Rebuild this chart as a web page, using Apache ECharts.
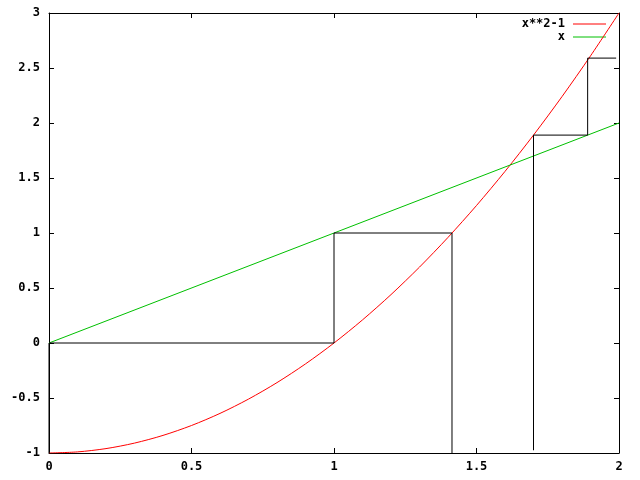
<!DOCTYPE html>
<html><head><meta charset="utf-8">
<script src="https://cdn.jsdelivr.net/npm/echarts@6/dist/echarts.min.js"></script>
<style>html,body{margin:0;padding:0;background:#fff}#c{width:640px;height:480px}</style>
</head><body><div id="c"></div>
<script>
// x**2-1 curve
const curveX = [0,0.1,0.2,0.3,0.4,0.5,0.6,0.7,0.8,0.9,1.0,1.1,1.2,1.3,1.4,1.5,1.6,1.7,1.8,1.9,2.0];
const curveY = [-1,-0.99,-0.96,-0.91,-0.84,-0.75,-0.64,-0.51,-0.36,-0.19,0,0.21,0.44,0.69,0.96,1.25,1.56,1.89,2.24,2.61,3.0];
// x line
const lineX = [0, 2];
const lineY = [0, 2];
// black cobweb path
const webX = [0, 0, 1, 1, 1.414, 1.414];
const webY = [-1, 0, 0, 1, 1, -1];
const web2X = [1.7, 1.7, 1.89, 1.89, 1.99];
const web2Y = [-0.975, 1.89, 1.89, 2.59, 2.59];
const xTicks = [0, 0.5, 1, 1.5, 2];
const yTicks = [-1, -0.5, 0, 0.5, 1, 1.5, 2, 2.5, 3];
const legendNames = ['x**2-1', 'x'];

const zip = (a, b) => a.map((v, i) => [v, b[i]]);
const font = {fontFamily: 'DejaVu Sans Mono', fontWeight: 'bold', fontSize: 12, color: '#000'};
const chart = echarts.init(document.getElementById('c'), null, {renderer: 'canvas'});
const axisCommon = {
  type: 'value', splitLine: {show: false},
  axisLine: {show: true, onZero: false, lineStyle: {color: '#000', width: 1}},
  axisTick: {show: true, inside: true, length: 5, lineStyle: {color: '#000'}}
};
chart.setOption({
  animation: false,
  backgroundColor: '#fff',
  grid: {left: 49, right: 21, top: 13, bottom: 27, containLabel: false},
  xAxis: [
    Object.assign({}, axisCommon, {min: 0, max: 2, interval: 0.5, position: 'bottom',
      axisLabel: Object.assign({margin: 8, formatter: v => String(v)}, font)}),
    Object.assign({}, axisCommon, {min: 0, max: 2, interval: 0.5, position: 'top', axisLabel: {show: false}})
  ],
  yAxis: [
    Object.assign({}, axisCommon, {min: -1, max: 3, interval: 0.5, position: 'left',
      axisLabel: Object.assign({margin: 9, formatter: v => String(v)}, font)}),
    Object.assign({}, axisCommon, {min: -1, max: 3, interval: 0.5, position: 'right', axisLabel: {show: false}})
  ],
  series: [
    {name: 'web1', type: 'line', data: zip(webX, webY), showSymbol: false, lineStyle: {color: '#000', width: 1}, z: 3},
    {name: 'web2', type: 'line', data: zip(web2X, web2Y), showSymbol: false, lineStyle: {color: '#000', width: 1}, z: 3},
    {name: legendNames[0], type: 'line', data: zip(curveX, curveY), smooth: 0.3, showSymbol: false, lineStyle: {color: '#ff0000', width: 1}, z: 2},
    {name: legendNames[1], type: 'line', data: zip(lineX, lineY), showSymbol: false, lineStyle: {color: '#00c000', width: 1}, z: 2}
  ],
  graphic: [
    {type: 'text', left: null, x: 565, y: 24, style: Object.assign({text: legendNames[0], textAlign: 'right', textVerticalAlign: 'middle', fill: '#000', font: 'bold 12px "DejaVu Sans Mono"'})},
    {type: 'line', shape: {x1: 573, y1: 24, x2: 606, y2: 24}, style: {stroke: '#ff0000', lineWidth: 1}},
    {type: 'text', x: 565, y: 37, style: {text: legendNames[1], textAlign: 'right', textVerticalAlign: 'middle', fill: '#000', font: 'bold 12px "DejaVu Sans Mono"'}},
    {type: 'line', shape: {x1: 573, y1: 37, x2: 606, y2: 37}, style: {stroke: '#00c000', lineWidth: 1}}
  ]
});
</script></body></html>
